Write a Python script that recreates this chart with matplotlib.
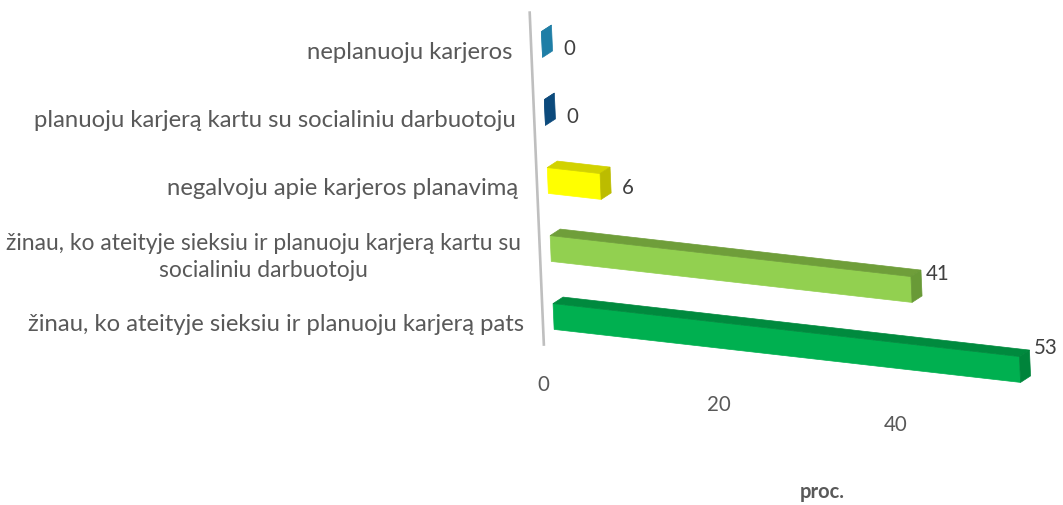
import numpy as np
import matplotlib
matplotlib.use("Agg")
import matplotlib.pyplot as plt
from matplotlib.transforms import Affine2D
from matplotlib.patches import Polygon

# ---------------- data ----------------
categories = [
    "žinau, ko ateityje sieksiu ir planuoju karjerą pats",
    "žinau, ko ateityje sieksiu ir planuoju karjerą kartu su\nsocialiniu darbuotoju",
    "negalvoju apie karjeros planavimą",
    "planuoju karjerą kartu su socialiniu darbuotoju",
    "neplanuoju karjeros",
]
values = [53, 41, 6, 0, 0]
value_ticks = [0, 20, 40]
axis_title = "proc."

# ---------------- style ----------------
front_colors = ["#00b050", "#92d050", "#ffff00", "#0d4a7e", "#1f7ea6"]
top_colors = ["#008a3e", "#6f9e3a", "#d2d200", "#0a3d68", "#186a8c"]
side_colors = ["#00843b", "#699a37", "#bcbc00", "#0c4a7c", "#1f7ea6"]

plt.rcParams["font.family"] = ["Lato", "DejaVu Sans"]

W, H = 1063, 506
fig = plt.figure(figsize=(W / 100, H / 100), dpi=100)
ax = fig.add_axes([0, 0, 1, 1])
ax.set_xlim(0, W)
ax.set_ylim(H, 0)
ax.axis("off")

# oblique (pseudo-3D) projection: (value, category) -> canvas
proj = Affine2D.from_values(8.8, 1.0, -2.9, -68.0, 553.6, 317.5)
T = proj + ax.transData
depth_px = np.array([10.0, -6.5])
du, dc = np.linalg.solve(proj.get_matrix()[:2, :2], depth_px)
half = 0.19
pos = np.arange(len(values))

# category axis line
ax.plot([-1.25, -1.25], [-0.45, 4.47], transform=T, color="#bfbfbf",
        lw=1.9, solid_capstyle="butt", zorder=1)

# bars: front faces
ax.barh(pos, values, height=2 * half, left=0, color=front_colors,
        edgecolor=front_colors, linewidth=0.5, transform=T, zorder=3)
for i, v in zip(pos, values):
    top = [(0, i + half), (v, i + half), (v + du, i + half + dc), (du, i + half + dc)]
    end = [(v, i - half), (v, i + half), (v + du, i + half + dc), (v + du, i - half + dc)]
    ax.add_patch(Polygon(top, closed=True, facecolor=top_colors[i],
                         edgecolor=top_colors[i], lw=0.5, transform=T, zorder=3))
    ax.add_patch(Polygon(end, closed=True, facecolor=side_colors[i],
                         edgecolor=side_colors[i], lw=0.5, transform=T, zorder=4))
    # data label
    ax.text(v + 3.1, i + 0.007 * v, f"{v}", transform=T, ha="center", va="center",
            fontsize=14.8, color="#404040", zorder=5)

# category labels
cat_texts = []
for i, lab in zip(pos, categories):
    cat_texts.append(ax.text(-3.4, i - 0.16, lab, transform=T, ha="right", va="center",
                             multialignment="center", fontsize=17.2, color="#595959",
                             linespacing=1.3))

# shrink any label that would run off the left edge
fig.canvas.draw()
renderer = fig.canvas.get_renderer()
for t in cat_texts:
    bb = t.get_window_extent(renderer)
    if bb.x0 < 8:
        avail = bb.x1 - 8
        t.set_fontsize(t.get_fontsize() * avail / bb.width)

# value tick labels
for t in value_ticks:
    ax.text(t - 1.5, -1.02, f"{t}", transform=T, ha="center", va="center",
            fontsize=14.8, color="#595959")

fig.text(822 / W, 1 - 492 / H, axis_title, ha="center", va="center",
         fontsize=14.5, fontweight="bold", color="#595959")

fig.savefig("out.png", dpi=100, facecolor="white")
